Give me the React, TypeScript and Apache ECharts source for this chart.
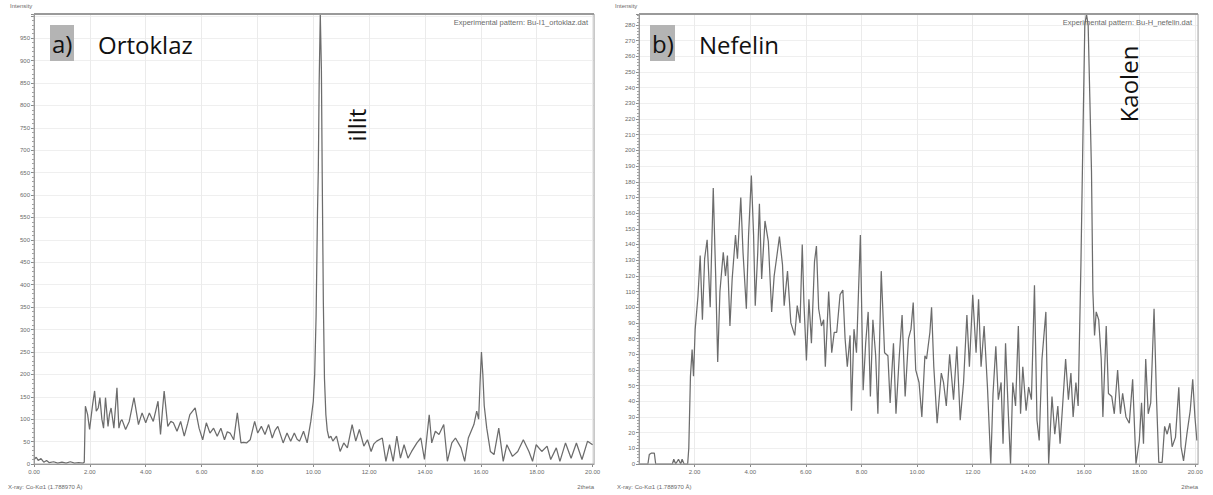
import React, { useEffect, useRef } from "react";
import * as echarts from "echarts";

// 2theta / intensity pairs
const ortoklazPattern: [number, number][] = [
  [0, 10], [0.08, 15], [0.15, 8], [0.25, 12], [0.35, 4], [0.45, 8], [0.55, 3], [0.7, 5], [0.85, 2], [1.0, 4],
  [1.15, 2], [1.3, 5], [1.45, 2], [1.6, 3], [1.75, 2], [1.8, 4],
  [1.84, 129], [1.92, 110], [1.99, 77], [2.1, 133], [2.17, 163], [2.23, 118], [2.3, 125], [2.36, 148], [2.43, 100],
  [2.49, 80], [2.56, 148], [2.65, 84], [2.7, 110], [2.76, 125], [2.86, 80], [2.97, 170], [3.04, 80], [3.1, 95],
  [3.15, 99], [3.28, 77], [3.41, 95], [3.58, 148], [3.74, 88], [3.8, 100], [3.87, 114], [4.0, 92], [4.13, 114],
  [4.27, 95], [4.44, 140], [4.53, 66], [4.6, 120], [4.66, 163], [4.79, 84], [4.9, 95], [4.99, 92], [5.12, 73],
  [5.25, 95], [5.38, 62], [5.5, 90], [5.58, 110], [5.77, 125], [5.91, 80], [6.04, 54], [6.17, 92], [6.3, 69],
  [6.43, 80], [6.56, 62], [6.69, 80], [6.82, 54], [6.92, 72], [7.02, 69], [7.15, 54], [7.28, 114], [7.41, 47],
  [7.5, 48], [7.61, 47], [7.74, 54], [7.9, 95], [8.01, 69], [8.14, 84], [8.27, 66], [8.4, 88], [8.53, 58],
  [8.63, 75], [8.73, 84], [8.92, 47], [9.06, 69], [9.19, 51], [9.32, 69], [9.42, 55], [9.51, 51], [9.65, 73],
  [9.78, 47], [9.91, 95], [10.0, 140], [10.05, 200], [10.1, 330], [10.15, 560], [10.18, 660], [10.21, 850],
  [10.25, 1004], [10.29, 880], [10.32, 640], [10.36, 360], [10.4, 190], [10.45, 110], [10.5, 75], [10.56, 58],
  [10.63, 62], [10.7, 51], [10.83, 62], [10.96, 28], [11.09, 47], [11.22, 36], [11.39, 88], [11.52, 51],
  [11.65, 77], [11.81, 40], [11.94, 54], [12.07, 28], [12.17, 45], [12.27, 51], [12.47, 58], [12.6, 6],
  [12.73, 43], [12.86, 6], [12.99, 62], [13.12, 13], [13.25, 43], [13.39, 13], [13.52, 28], [13.71, 47],
  [13.85, 58], [13.98, 10], [14.15, 110], [14.24, 47], [14.37, 73], [14.5, 66], [14.67, 88], [14.8, 6],
  [14.96, 47], [15.09, 58], [15.29, 36], [15.42, 6], [15.55, 58], [15.75, 88], [15.85, 118], [15.92, 100],
  [15.97, 180], [16.02, 250], [16.07, 200], [16.12, 130], [16.21, 80], [16.34, 28], [16.47, 21], [16.64, 80],
  [16.8, 6], [16.93, 43], [17.13, 17], [17.32, 28], [17.52, 54], [17.72, 28], [17.85, 6], [17.98, 43],
  [18.18, 28], [18.37, 40], [18.5, 10], [18.7, 36], [18.83, 6], [19.03, 47], [19.23, 13], [19.42, 47],
  [19.62, 10], [19.82, 51], [20.0, 43],
];

const nefelinPattern: [number, number][] = [
  [0.0, 0], [0.32, 0], [0.37, 6], [0.45, 7], [0.55, 7], [0.6, 0], [0.8, 0], [1.0, 0], [1.2, 0], [1.25, 3],
  [1.32, 0], [1.42, 3], [1.5, 0], [1.55, 3], [1.62, 0], [1.75, 0], [1.79, 10],
  [1.85, 56], [1.91, 73], [1.96, 56], [2.02, 86], [2.12, 107], [2.2, 133], [2.28, 92], [2.36, 131], [2.45, 143],
  [2.56, 100], [2.67, 176], [2.76, 118], [2.83, 65], [2.91, 110], [3.03, 135], [3.11, 120], [3.18, 133],
  [3.27, 88], [3.35, 118], [3.47, 146], [3.54, 131], [3.66, 170], [3.74, 135], [3.86, 99], [3.94, 146],
  [4.04, 184], [4.12, 146], [4.18, 101], [4.27, 135], [4.33, 166], [4.41, 118], [4.53, 155], [4.65, 142],
  [4.77, 97], [4.86, 120], [4.96, 133], [5.05, 145], [5.16, 127], [5.22, 101], [5.34, 123], [5.46, 90],
  [5.6, 82], [5.69, 101], [5.79, 90], [5.87, 140], [5.93, 103], [6.02, 66], [6.11, 105], [6.2, 77], [6.31, 129],
  [6.38, 139], [6.46, 99], [6.56, 88], [6.64, 92], [6.7, 62], [6.82, 110], [6.93, 71], [7.02, 84], [7.11, 84],
  [7.23, 108], [7.33, 111], [7.41, 80], [7.49, 62], [7.59, 82], [7.64, 34], [7.73, 86], [7.82, 71], [7.96, 146],
  [8.06, 47], [8.15, 77], [8.24, 97], [8.32, 43], [8.41, 92], [8.51, 69], [8.59, 32], [8.71, 123], [8.83, 71],
  [8.95, 69], [9.03, 39], [9.15, 77], [9.24, 32], [9.36, 69], [9.46, 95], [9.57, 43], [9.69, 80], [9.78, 86],
  [9.86, 103], [9.95, 60], [10.07, 52], [10.17, 30], [10.28, 69], [10.34, 67], [10.46, 84], [10.52, 100],
  [10.6, 62], [10.72, 26], [10.87, 58], [10.95, 52], [11.05, 37], [11.17, 70], [11.31, 41], [11.43, 75],
  [11.55, 28], [11.67, 52], [11.79, 95], [11.88, 62], [12.0, 108], [12.12, 71], [12.21, 105], [12.3, 62],
  [12.41, 88], [12.53, 49], [12.65, 0], [12.73, 45], [12.83, 75], [12.92, 41], [13.02, 52], [13.09, 13],
  [13.18, 77], [13.28, 32], [13.36, 0], [13.44, 52], [13.54, 37], [13.64, 88], [13.72, 32], [13.8, 62],
  [13.92, 34], [14.01, 49], [14.11, 41], [14.22, 114], [14.31, 28], [14.39, 15], [14.49, 67], [14.63, 97],
  [14.73, 0], [14.85, 43], [14.95, 19], [15.06, 37], [15.14, 13], [15.22, 34], [15.34, 67], [15.44, 41],
  [15.53, 58], [15.61, 30], [15.71, 52], [15.79, 37], [15.89, 127], [15.97, 217], [16.03, 280], [16.09, 287],
  [16.15, 280], [16.21, 234], [16.27, 187], [16.32, 110], [16.38, 82], [16.44, 97], [16.53, 92], [16.62, 67],
  [16.68, 30], [16.8, 88], [16.88, 45], [17.0, 43], [17.09, 32], [17.21, 60], [17.31, 32], [17.39, 45],
  [17.51, 30], [17.63, 26], [17.75, 54], [17.87, 0], [17.99, 15], [18.07, 39], [18.14, 13], [18.22, 67],
  [18.31, 32], [18.4, 39], [18.52, 99], [18.61, 41], [18.69, 1], [18.81, 1], [18.9, 24], [18.99, 19],
  [19.09, 26], [19.17, 11], [19.29, 17], [19.41, 49], [19.49, 11], [19.58, 2], [19.7, 19], [19.82, 34],
  [19.91, 54], [19.99, 30], [20.06, 15],
];

const panelLetters = ["a)", "b)"];
const mineralNames = ["Ortoklaz", "Nefelin"];
const peakNames = ["illit", "Kaolen"];
const legendNames = [
  "Experimental pattern: Bu-I1_ortoklaz.dat",
  "Experimental pattern: Bu-H_nefelin.dat",
];
const yAxisTitle = "Intensity";
const xAxisTitle = "2theta";
const radiationNote = "X-ray: Co-K\u03b11 (1.788970 \u00c5)";

const yMax = [1004, 287];
const yStep = [50, 10];
const yLastLabel = [950, 280];
const xMax = [20.05, 20.1];

const tiny = { fontFamily: "Liberation Sans", fontSize: 6, fill: "#6a6a6a" };
const big = { fontFamily: "Open Sans", fontSize: 24, fill: "#111" };

export default function App() {
  const ref = useRef<HTMLDivElement>(null);
  useEffect(() => {
    if (!ref.current) return;
    const chart = echarts.init(ref.current, undefined, { renderer: "svg" });
    const grids = [
      { left: 34, top: 14, width: 560, height: 450 },
      { left: 639, top: 14, width: 559, height: 450 },
    ];
    const xAxes = [0, 1].map((i) => ({
      type: "value",
      gridIndex: i,
      min: 0,
      max: xMax[i],
      interval: 2,
      axisLine: { lineStyle: { color: "#8a8a8a", width: 1 } },
      axisTick: { show: true, length: 3, lineStyle: { color: "#8a8a8a" } },
      axisLabel: {
        fontSize: 6,
        fontFamily: "Liberation Sans",
        color: "#6a6a6a",
        margin: 5,
        showMaxLabel: false,
        showMinLabel: i === 0,
        formatter: (v: number) => v.toFixed(2),
      },
      splitLine: { show: true, lineStyle: { color: "#ebebeb", width: 1 } },
    }));
    const yAxes = [0, 1].map((i) => ({
      type: "value",
      gridIndex: i,
      min: 0,
      max: yMax[i],
      interval: yStep[i],
      axisLine: { show: true, lineStyle: { color: "#8a8a8a", width: 1 } },
      axisTick: { show: true, length: 3, lineStyle: { color: "#8a8a8a" } },
      minorTick: { show: true, splitNumber: 5, length: 2, lineStyle: { color: "#a0a0a0" } },
      axisLabel: {
        fontSize: 6,
        fontFamily: "Liberation Sans",
        color: "#6a6a6a",
        margin: 4,
        showMaxLabel: false,
        formatter: (v: number) => (v > yLastLabel[i] ? "" : String(v)),
      },
      splitLine: { show: true, lineStyle: { color: "#efefef", width: 1 } },
    }));
    const patterns = [ortoklazPattern, nefelinPattern];
    const series = patterns.map((d, i) => ({
      type: "line",
      xAxisIndex: i,
      yAxisIndex: i,
      data: d,
      showSymbol: false,
      symbol: "none",
      clip: true,
      lineStyle: { color: "#6c6c6c", width: 1.25 },
    }));

    const graphic: any[] = [];
    const panelX = [0, 605];
    [0, 1].forEach((i) => {
      const ox = panelX[i];
      const g = grids[i];
      graphic.push(
        { type: "rect", shape: { x: g.left, y: g.top, width: g.width, height: g.height }, style: { fill: "none", stroke: "#a8a8a8", lineWidth: 1 }, silent: true, z: 90 },
        { type: "line", shape: { x1: g.left, y1: g.top, x2: g.left + g.width, y2: g.top }, style: { stroke: "#9a9a9a", lineWidth: 2 }, z: 90 },
        { type: "text", x: g.left - 24, y: 3, z: 100, style: { ...tiny, text: yAxisTitle } },
        { type: "text", x: ox + 8 + (i === 1 ? 4 : 0), y: 484, z: 100, style: { ...tiny, text: radiationNote } },
        { type: "text", x: g.left + g.width, y: 484, z: 100, style: { ...tiny, text: xAxisTitle, align: "right" } },
        { type: "text", x: g.left + g.width - 6, y: 18, z: 100, style: { ...tiny, fontSize: 7.5, text: legendNames[i], align: "right" } },
        { type: "rect", z: 100, shape: { x: i === 0 ? 50 : 650, y: 25, width: i === 0 ? 24 : 25, height: 36 }, style: { fill: "#b4b4b4" } },
        { type: "text", z: 101, x: i === 0 ? 52 : 652, y: 43, style: { ...big, text: panelLetters[i], verticalAlign: "middle" } },
        { type: "text", z: 101, x: i === 0 ? 98 : 699, y: 44, style: { ...big, text: mineralNames[i], verticalAlign: "middle" } },
      );
    });
    graphic.push(
      { type: "text", z: 101, x: 356, y: 125, rotation: Math.PI / 2, style: { ...big, text: peakNames[0], align: "center", verticalAlign: "middle" } },
      { type: "text", z: 101, x: 1128, y: 84, rotation: Math.PI / 2, style: { ...big, text: peakNames[1], align: "center", verticalAlign: "middle" } },
    );

    chart.setOption({
      animation: false,
      backgroundColor: "#ffffff",
      grid: grids,
      xAxis: xAxes,
      yAxis: yAxes,
      series,
      graphic,
    } as any);
    return () => chart.dispose();
  }, []);
  return (
    <div
      ref={ref}
      style={{ position: "fixed", left: 0, top: 0, width: 1213, height: 495, background: "#fff" }}
    />
  );
}
